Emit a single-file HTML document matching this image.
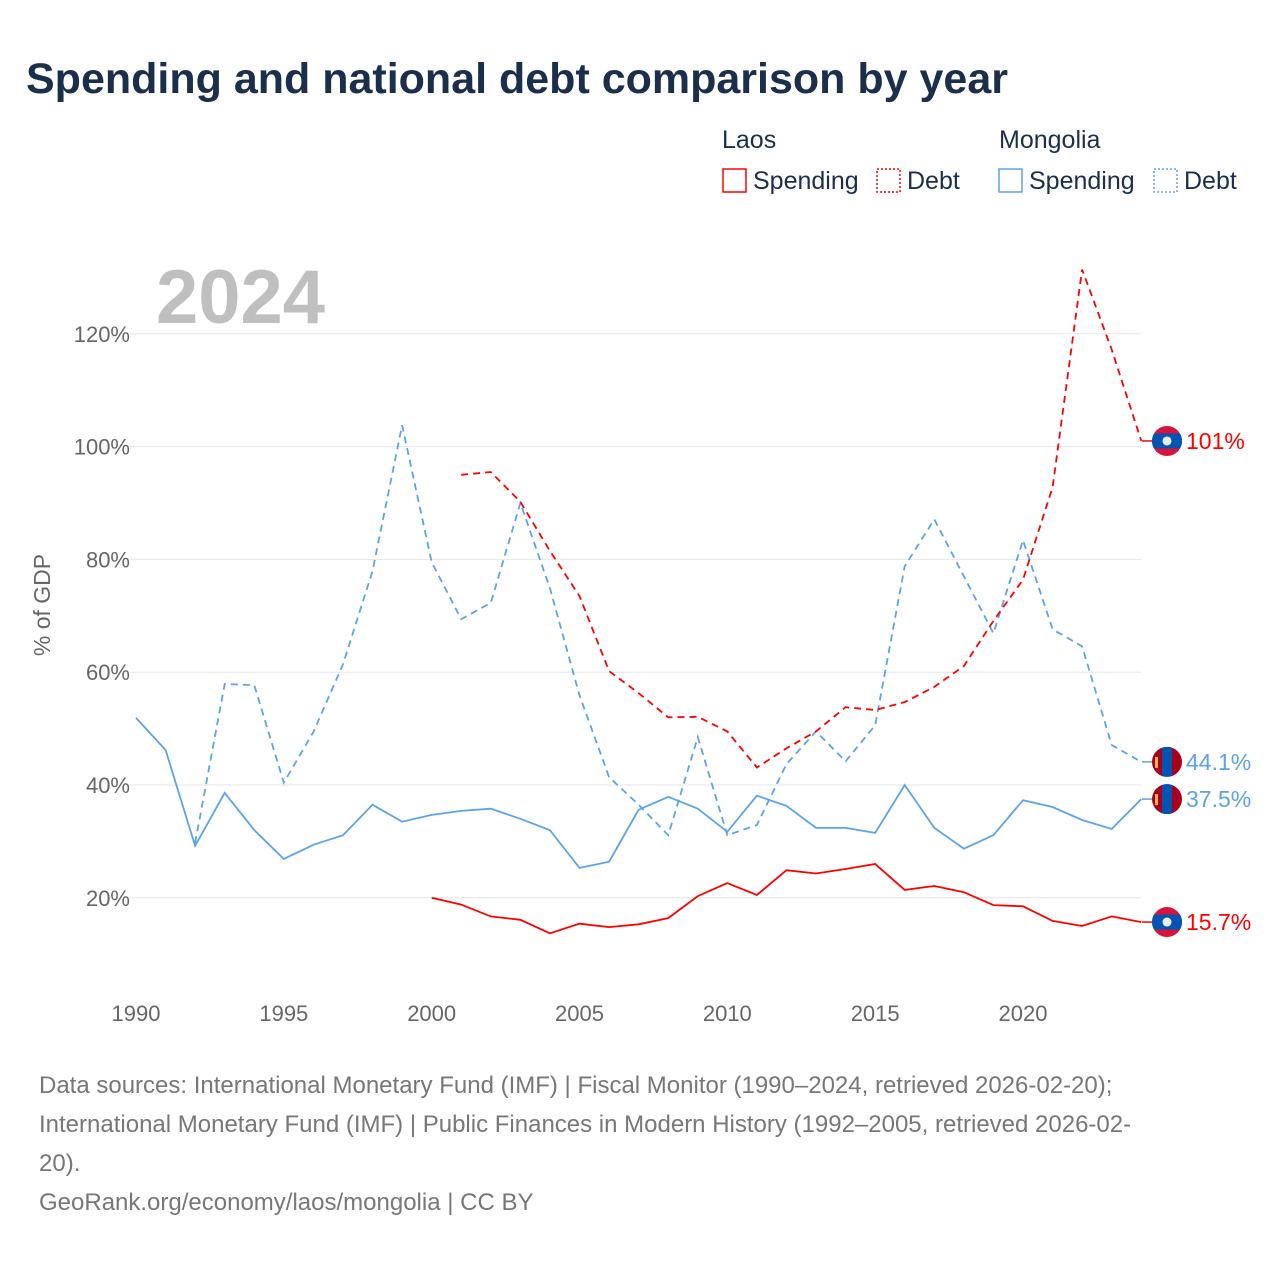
<!DOCTYPE html>
<html><head><meta charset="utf-8"><style>
body{margin:0;background:#fff;width:1280px;height:1280px;overflow:hidden;font-family:"Liberation Sans",sans-serif}
svg text{font-family:"Liberation Sans",sans-serif}
</style></head><body>
<svg id="chart" width="1280" height="1280" xmlns="http://www.w3.org/2000/svg">
<text x="26" y="93" font-size="43" font-weight="bold" fill="#1b2f4d">Spending and national debt comparison by year</text>
<g font-size="25" fill="#1b2f4d">
<text x="722" y="148">Laos</text>
<text x="999" y="148">Mongolia</text>
<rect x="723" y="169" width="23" height="23" fill="none" stroke="#f00" stroke-width="1.5"/>
<text x="753" y="189">Spending</text>
<rect x="877" y="169" width="23" height="23" fill="none" stroke="#f00" stroke-width="1.5" stroke-dasharray="2 2"/>
<text x="907" y="189">Debt</text>
<rect x="999" y="169" width="23" height="23" fill="none" stroke="#5ba3ea" stroke-width="1.5"/>
<text x="1029" y="189">Spending</text>
<rect x="1154" y="169" width="23" height="23" fill="none" stroke="#5ba3ea" stroke-width="1.5" stroke-dasharray="2 2"/>
<text x="1184" y="189">Debt</text>
</g>
<text x="156" y="323" font-size="76" font-weight="bold" fill="#bfbfbf">2024</text>
<text transform="translate(50,605) rotate(-90)" text-anchor="middle" font-size="23" fill="#666">% of GDP</text>
<g id="grid"></g><g id="series"></g><g id="labels"></g>
<g font-size="24" fill="#777">
<text x="39" y="1093">Data sources: International Monetary Fund (IMF) | Fiscal Monitor (1990–2024, retrieved 2026-02-20);</text>
<text x="39" y="1132">International Monetary Fund (IMF) | Public Finances in Modern History (1992–2005, retrieved 2026-02-</text>
<text x="39" y="1171">20).</text>
<text x="39" y="1210">GeoRank.org/economy/laos/mongolia | CC BY</text>
</g>
</svg>
<script>
const yTicks=[20,40,60,80,100,120];
const xTicks=[1990,1995,2000,2005,2010,2015,2020];
const laosSpendYears=[2000,2001,2002,2003,2004,2005,2006,2007,2008,2009,2010,2011,2012,2013,2014,2015,2016,2017,2018,2019,2020,2021,2022,2023,2024];
const laosSpend=[20.0,18.8,16.7,16.1,13.7,15.4,14.8,15.3,16.4,20.3,22.6,20.5,24.9,24.3,25.1,26.0,21.4,22.1,21.0,18.7,18.5,15.9,15.0,16.7,15.7];
const laosDebtYears=[2001,2002,2003,2004,2005,2006,2007,2008,2009,2010,2011,2012,2013,2014,2015,2016,2017,2018,2019,2020,2021,2022,2023,2024];
const laosDebt=[95.0,95.5,90.2,81.5,73.5,60.2,56.3,52.0,52.1,49.5,43.1,46.5,49.5,53.8,53.3,54.7,57.4,61.1,69.1,76.4,92.8,131.4,117.2,101];
const monSpendYears=[1990,1991,1992,1993,1994,1995,1996,1997,1998,1999,2000,2001,2002,2003,2004,2005,2006,2007,2008,2009,2010,2011,2012,2013,2014,2015,2016,2017,2018,2019,2020,2021,2022,2023,2024];
const monSpend=[51.9,46.2,29.2,38.6,32.0,26.9,29.4,31.1,36.5,33.5,34.7,35.4,35.8,34.0,32.0,25.3,26.4,35.6,37.9,35.8,31.7,38.1,36.3,32.4,32.4,31.5,40.0,32.4,28.7,31.1,37.3,36.1,33.8,32.2,37.5];
const monDebtYears=[1992,1993,1994,1995,1996,1997,1998,1999,2000,2001,2002,2003,2004,2005,2006,2007,2008,2009,2010,2011,2012,2013,2014,2015,2016,2017,2018,2019,2020,2021,2022,2023,2024];
const monDebt=[29.7,57.9,57.7,40.4,49.4,61.4,77.9,103.8,79.5,69.4,72.3,90.0,74.9,55.9,41.4,36.5,31.1,48.5,31.1,32.9,43.7,49.5,44.2,50.6,78.8,87.1,77.0,66.9,83.4,67.6,64.6,47.1,44.1];
const NS='http://www.w3.org/2000/svg';
const X=y=>136+(y-1990)*(1023-136)/30;
const Y=v=>1010.6-v*5.64;
function mk(t,a,p){const e=document.createElementNS(NS,t);for(const k in a)e.setAttribute(k,a[k]);p.appendChild(e);return e;}
const grid=document.getElementById('grid');
yTicks.forEach(v=>{
 const l=mk('line',{x1:130,x2:1141,y1:Y(v),y2:Y(v),stroke:'#e6e6e6','stroke-width':1},grid);
 
 
 const t=mk('text',{x:130,y:Y(v)+8,'text-anchor':'end','font-size':22,fill:'#666'},grid);
 t.textContent=v+'%';
 
 
});
xTicks.forEach(v=>{
 const t=mk('text',{x:X(v),y:1021,'text-anchor':'middle','font-size':22,fill:'#666'},grid);
 t.textContent=v;
 
 
});
const ser=document.getElementById('series');
function line(ys,vs,col,dash,name){
 const d=ys.map((y,i)=>(i?'L':'M')+X(y).toFixed(1)+','+Y(vs[i]).toFixed(1)).join('');
 const p=mk('path',{d:d,fill:'none',stroke:col,'stroke-width':1.8,'stroke-dasharray':dash||'none'},ser);
 
 
}
line(monSpendYears,monSpend,'#5ba3ea',null,'mongolia-spending-line');
line(monDebtYears,monDebt,'#5ba3ea','7 5','mongolia-debt-line');
line(laosSpendYears,laosSpend,'#f00',null,'laos-spending-line');
line(laosDebtYears,laosDebt,'#f00','7 5','laos-debt-line');
const lab=document.getElementById('labels');
function flag(kind,v,col,name){
 const cy=Y(v),cx=1167;
 const g=mk('g',{},lab);
 
 
 mk('line',{x1:1142,x2:1152,y1:cy,y2:cy,stroke:col,'stroke-width':1.5},g);
 const id='c'+name;
 const cp=mk('clipPath',{id:id},g);mk('circle',{cx:cx,cy:cy,r:15},cp);
 const f=mk('g',{'clip-path':'url(#'+id+')'},g);
 if(kind==='laos'){
  mk('rect',{x:cx-15,y:cy-15,width:30,height:30,fill:'#d7143a'},f);
  mk('rect',{x:cx-15,y:cy-7.5,width:30,height:15,fill:'#0055b3'},f);
  mk('circle',{cx:cx,cy:cy,r:4.5,fill:'#eee'},f);
 }else{
  mk('rect',{x:cx-15,y:cy-15,width:30,height:30,fill:'#a8001c'},f);
  mk('rect',{x:cx-5,y:cy-15,width:10,height:30,fill:'#0055b3'},f);
  mk('rect',{x:cx-12,y:cy-5,width:3,height:11,fill:'#e8b84a'},f);
 }
 const t=mk('text',{x:1186,y:cy+8,'font-size':23,fill:col},g);
 t.textContent=(v>=100?Math.round(v):v.toFixed(1))+'%';
}
flag('laos',laosDebt[laosDebt.length-1],'#f00','laos-debt-label');
flag('mon',monDebt[monDebt.length-1],'#5ba3ea','mongolia-debt-label');
flag('mon',monSpend[monSpend.length-1],'#5ba3ea','mongolia-spending-label');
flag('laos',laosSpend[laosSpend.length-1],'#f00','laos-spending-label');
</script>
</body></html>
